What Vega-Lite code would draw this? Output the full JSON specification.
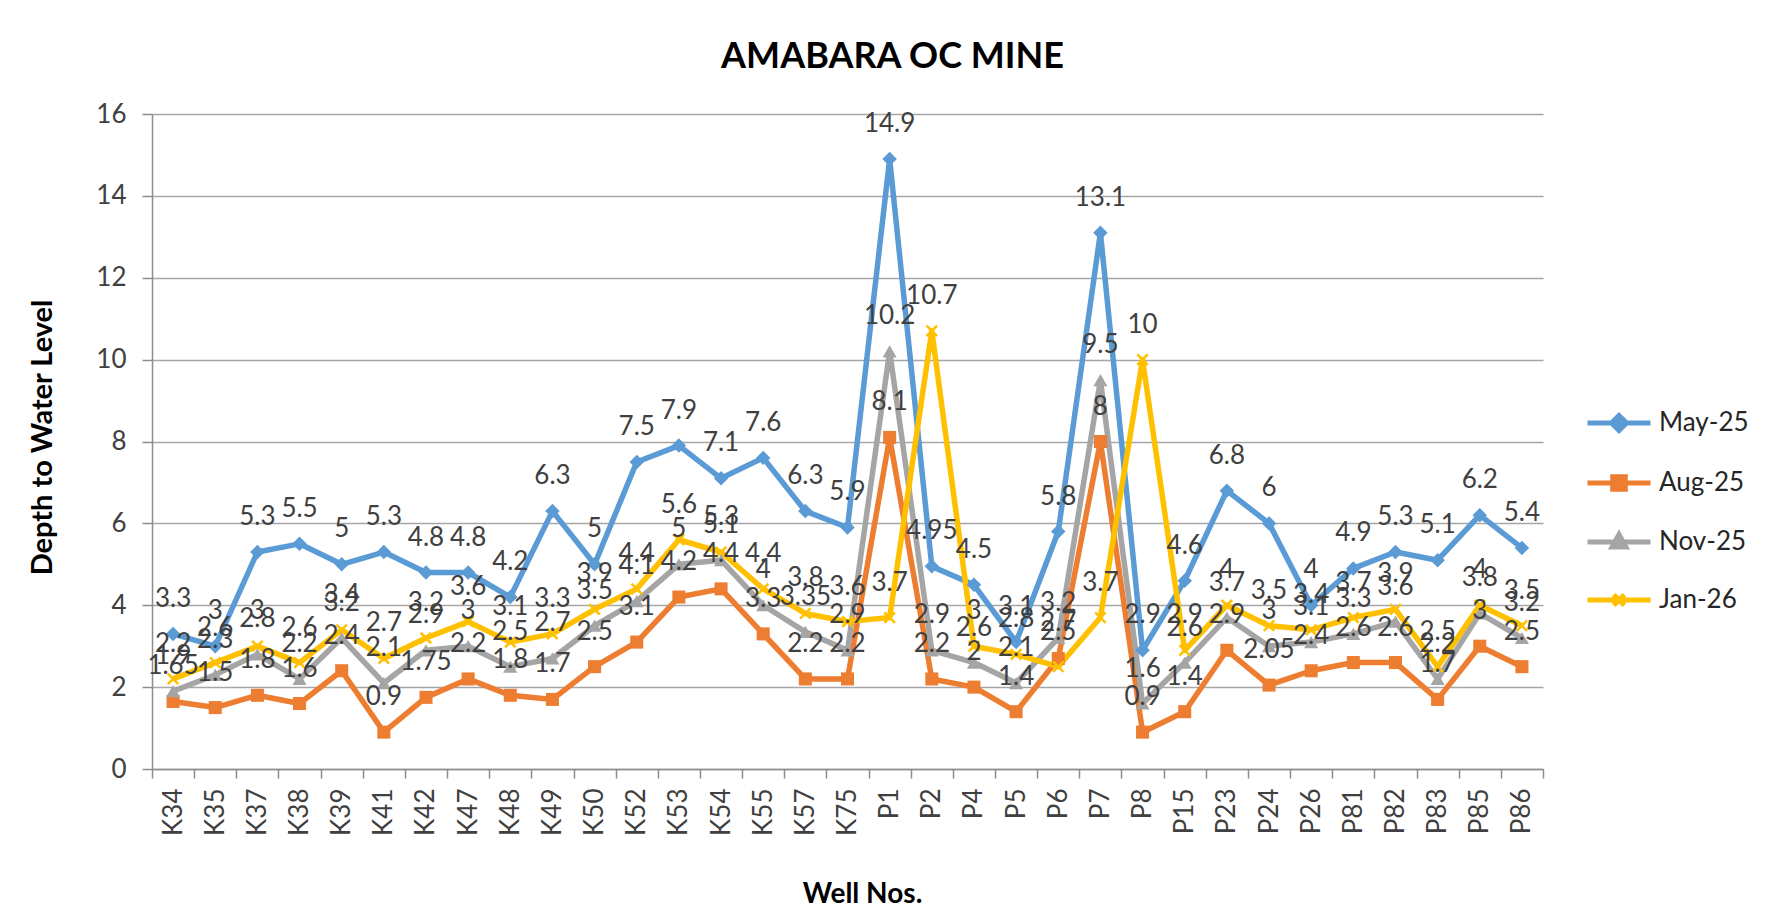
{
  "$schema": "https://vega.github.io/schema/vega-lite/v6.json",
  "autosize": {"type": "none"},
  "padding": {"left": 152, "top": 114, "right": 238, "bottom": 147},
  "width": 1391,
  "height": 655,
  "background": "white",
  "config": {"font": "Lato", "view": {"stroke": null}},
  "title": {"text": "AMABARA OC MINE", "font": "Lato", "fontSize": 36, "fontWeight": "bold", "color": "#000000", "anchor": "middle", "frame": "group", "dx": 45, "baseline": "alphabetic", "offset": -3},
  "data": {"values": [
    {"well":"K34","series":"May-25","depth":3.3},{"well":"K35","series":"May-25","depth":3},{"well":"K37","series":"May-25","depth":5.3},{"well":"K38","series":"May-25","depth":5.5},{"well":"K39","series":"May-25","depth":5},{"well":"K41","series":"May-25","depth":5.3},{"well":"K42","series":"May-25","depth":4.8},{"well":"K47","series":"May-25","depth":4.8},{"well":"K48","series":"May-25","depth":4.2},{"well":"K49","series":"May-25","depth":6.3},{"well":"K50","series":"May-25","depth":5},{"well":"K52","series":"May-25","depth":7.5},{"well":"K53","series":"May-25","depth":7.9},{"well":"K54","series":"May-25","depth":7.1},{"well":"K55","series":"May-25","depth":7.6},{"well":"K57","series":"May-25","depth":6.3},{"well":"K75","series":"May-25","depth":5.9},{"well":"P1","series":"May-25","depth":14.9},{"well":"P2","series":"May-25","depth":4.95},{"well":"P4","series":"May-25","depth":4.5},{"well":"P5","series":"May-25","depth":3.1},{"well":"P6","series":"May-25","depth":5.8},{"well":"P7","series":"May-25","depth":13.1},{"well":"P8","series":"May-25","depth":2.9},{"well":"P15","series":"May-25","depth":4.6},{"well":"P23","series":"May-25","depth":6.8},{"well":"P24","series":"May-25","depth":6},{"well":"P26","series":"May-25","depth":4},{"well":"P81","series":"May-25","depth":4.9},{"well":"P82","series":"May-25","depth":5.3},{"well":"P83","series":"May-25","depth":5.1},{"well":"P85","series":"May-25","depth":6.2},{"well":"P86","series":"May-25","depth":5.4},
    {"well":"K34","series":"Aug-25","depth":1.65},{"well":"K35","series":"Aug-25","depth":1.5},{"well":"K37","series":"Aug-25","depth":1.8},{"well":"K38","series":"Aug-25","depth":1.6},{"well":"K39","series":"Aug-25","depth":2.4},{"well":"K41","series":"Aug-25","depth":0.9},{"well":"K42","series":"Aug-25","depth":1.75},{"well":"K47","series":"Aug-25","depth":2.2},{"well":"K48","series":"Aug-25","depth":1.8},{"well":"K49","series":"Aug-25","depth":1.7},{"well":"K50","series":"Aug-25","depth":2.5},{"well":"K52","series":"Aug-25","depth":3.1},{"well":"K53","series":"Aug-25","depth":4.2},{"well":"K54","series":"Aug-25","depth":4.4},{"well":"K55","series":"Aug-25","depth":3.3},{"well":"K57","series":"Aug-25","depth":2.2},{"well":"K75","series":"Aug-25","depth":2.2},{"well":"P1","series":"Aug-25","depth":8.1},{"well":"P2","series":"Aug-25","depth":2.2},{"well":"P4","series":"Aug-25","depth":2},{"well":"P5","series":"Aug-25","depth":1.4},{"well":"P6","series":"Aug-25","depth":2.7},{"well":"P7","series":"Aug-25","depth":8},{"well":"P8","series":"Aug-25","depth":0.9},{"well":"P15","series":"Aug-25","depth":1.4},{"well":"P23","series":"Aug-25","depth":2.9},{"well":"P24","series":"Aug-25","depth":2.05},{"well":"P26","series":"Aug-25","depth":2.4},{"well":"P81","series":"Aug-25","depth":2.6},{"well":"P82","series":"Aug-25","depth":2.6},{"well":"P83","series":"Aug-25","depth":1.7},{"well":"P85","series":"Aug-25","depth":3},{"well":"P86","series":"Aug-25","depth":2.5},
    {"well":"K34","series":"Nov-25","depth":1.9},{"well":"K35","series":"Nov-25","depth":2.3},{"well":"K37","series":"Nov-25","depth":2.8},{"well":"K38","series":"Nov-25","depth":2.2},{"well":"K39","series":"Nov-25","depth":3.2},{"well":"K41","series":"Nov-25","depth":2.1},{"well":"K42","series":"Nov-25","depth":2.9},{"well":"K47","series":"Nov-25","depth":3},{"well":"K48","series":"Nov-25","depth":2.5},{"well":"K49","series":"Nov-25","depth":2.7},{"well":"K50","series":"Nov-25","depth":3.5},{"well":"K52","series":"Nov-25","depth":4.1},{"well":"K53","series":"Nov-25","depth":5},{"well":"K54","series":"Nov-25","depth":5.1},{"well":"K55","series":"Nov-25","depth":4},{"well":"K57","series":"Nov-25","depth":3.35},{"well":"K75","series":"Nov-25","depth":2.9},{"well":"P1","series":"Nov-25","depth":10.2},{"well":"P2","series":"Nov-25","depth":2.9},{"well":"P4","series":"Nov-25","depth":2.6},{"well":"P5","series":"Nov-25","depth":2.1},{"well":"P6","series":"Nov-25","depth":3.2},{"well":"P7","series":"Nov-25","depth":9.5},{"well":"P8","series":"Nov-25","depth":1.6},{"well":"P15","series":"Nov-25","depth":2.6},{"well":"P23","series":"Nov-25","depth":3.7},{"well":"P24","series":"Nov-25","depth":3},{"well":"P26","series":"Nov-25","depth":3.1},{"well":"P81","series":"Nov-25","depth":3.3},{"well":"P82","series":"Nov-25","depth":3.6},{"well":"P83","series":"Nov-25","depth":2.2},{"well":"P85","series":"Nov-25","depth":3.8},{"well":"P86","series":"Nov-25","depth":3.2},
    {"well":"K34","series":"Jan-26","depth":2.2},{"well":"K35","series":"Jan-26","depth":2.6},{"well":"K37","series":"Jan-26","depth":3},{"well":"K38","series":"Jan-26","depth":2.6},{"well":"K39","series":"Jan-26","depth":3.4},{"well":"K41","series":"Jan-26","depth":2.7},{"well":"K42","series":"Jan-26","depth":3.2},{"well":"K47","series":"Jan-26","depth":3.6},{"well":"K48","series":"Jan-26","depth":3.1},{"well":"K49","series":"Jan-26","depth":3.3},{"well":"K50","series":"Jan-26","depth":3.9},{"well":"K52","series":"Jan-26","depth":4.4},{"well":"K53","series":"Jan-26","depth":5.6},{"well":"K54","series":"Jan-26","depth":5.3},{"well":"K55","series":"Jan-26","depth":4.4},{"well":"K57","series":"Jan-26","depth":3.8},{"well":"K75","series":"Jan-26","depth":3.6},{"well":"P1","series":"Jan-26","depth":3.7},{"well":"P2","series":"Jan-26","depth":10.7},{"well":"P4","series":"Jan-26","depth":3},{"well":"P5","series":"Jan-26","depth":2.8},{"well":"P6","series":"Jan-26","depth":2.5},{"well":"P7","series":"Jan-26","depth":3.7},{"well":"P8","series":"Jan-26","depth":10},{"well":"P15","series":"Jan-26","depth":2.9},{"well":"P23","series":"Jan-26","depth":4},{"well":"P24","series":"Jan-26","depth":3.5},{"well":"P26","series":"Jan-26","depth":3.4},{"well":"P81","series":"Jan-26","depth":3.7},{"well":"P82","series":"Jan-26","depth":3.9},{"well":"P83","series":"Jan-26","depth":2.5},{"well":"P85","series":"Jan-26","depth":4},{"well":"P86","series":"Jan-26","depth":3.5}
  ]},
  "encoding": {
    "x": {
      "field": "well", "type": "nominal", "sort": null,
      "scale": {"type": "band", "paddingInner": 0, "paddingOuter": 0},
      "axis": {
        "title": "Well Nos.", "titleFont": "Lato", "titleFontSize": 28, "titleFontWeight": "bold", "titleColor": "#000000",
        "titleX": 710, "titleY": 133, "titleAlign": "center", "titleBaseline": "alphabetic",
        "labelAngle": -90, "labelFont": "Lato", "labelFontSize": 26, "labelColor": "#404040", "labelPadding": 10,
        "domainColor": "#8C8C8C", "domainWidth": 1.5, "tickColor": "#8C8C8C", "tickWidth": 1.5, "tickSize": 9, "tickBand": "extent",
        "grid": false
      }
    },
    "y": {
      "field": "depth", "type": "quantitative",
      "scale": {"domain": [0, 16], "nice": false, "zero": true},
      "axis": {
        "title": "Depth to Water Level", "titleFont": "Lato", "titleFontSize": 29, "titleFontWeight": "bold", "titleColor": "#000000",
        "titleX": -110, "titleY": 323, "titleAngle": -90, "titleAlign": "center", "titleBaseline": "middle",
        "values": [0, 2, 4, 6, 8, 10, 12, 14, 16],
        "labelFont": "Lato", "labelFontSize": 26, "labelColor": "#404040", "labelPadding": 16,
        "domainColor": "#8C8C8C", "domainWidth": 1.5, "tickColor": "#8C8C8C", "tickWidth": 1.5, "tickSize": 10,
        "grid": true, "gridColor": "#A6A6A6", "gridWidth": 1.5
      }
    },
    "color": {
      "field": "series", "type": "nominal",
      "scale": {"domain": ["May-25", "Aug-25", "Nov-25", "Jan-26"], "range": ["#5B9BD5", "#ED7D31", "#A5A5A5", "#FFC000"]},
      "legend": null
    }
  },
  "layer": [
    {
      "mark": {"type": "line", "strokeWidth": 5.5, "strokeJoin": "round"},
      "encoding": {
        "color": {
          "field": "series", "type": "nominal",
          "scale": {"domain": ["May-25", "Aug-25", "Nov-25", "Jan-26"], "range": ["#5B9BD5", "#ED7D31", "#A5A5A5", "#FFC000"]},
          "legend": {
            "title": null, "orient": "none", "legendX": 1433, "legendY": 275, "padding": 0,
            "symbolType": "stroke", "symbolSize": 3969, "symbolStrokeWidth": 5, "rowPadding": 8, "labelOffset": 6,
            "labelFont": "Lato", "labelFontSize": 26, "labelColor": "#262626",
            "encoding": {
              "symbols": {
                "shape": {"value": {"expr": "datum.value === 'May-25' ? 'M-1,0L1,0M0,-0.24L0.24,0L0,0.24L-0.24,0Z' : datum.value === 'Aug-25' ? 'M-1,0L1,0M-0.2,-0.2L0.2,-0.2L0.2,0.2L-0.2,0.2Z' : datum.value === 'Nov-25' ? 'M-1,0L1,0M0,-0.24L0.22,0.16L-0.22,0.16Z' : 'M-1,0L1,0M-0.17,-0.17L0.17,0.17M0.17,-0.17L-0.17,0.17'"}},
                "fill": {"value": {"expr": "scale('color', datum.value)"}}
              }
            }
          }
        }
      }
    },
    {
      "transform": [{"filter": "datum.series === 'May-25'"}],
      "mark": {"type": "point", "shape": "diamond", "filled": true, "opacity": 1, "size": 210}
    },
    {
      "transform": [{"filter": "datum.series === 'Aug-25'"}],
      "mark": {"type": "point", "shape": "square", "filled": true, "opacity": 1, "size": 170}
    },
    {
      "transform": [{"filter": "datum.series === 'Nov-25'"}],
      "mark": {"type": "point", "shape": "triangle-up", "filled": true, "opacity": 1, "size": 200}
    },
    {
      "transform": [{"filter": "datum.series === 'Jan-26'"}],
      "mark": {"type": "point", "shape": "M-1,-1L1,1M1,-1L-1,1", "filled": false, "opacity": 1, "size": 110, "strokeWidth": 2.5}
    },
    {
      "mark": {"type": "text", "font": "Lato", "fontSize": 26, "color": "#404040", "baseline": "alphabetic", "align": "center", "dy": -27},
      "encoding": {
        "color": null,
        "text": {"field": "depth", "type": "quantitative"}
      }
    }
  ]
}
